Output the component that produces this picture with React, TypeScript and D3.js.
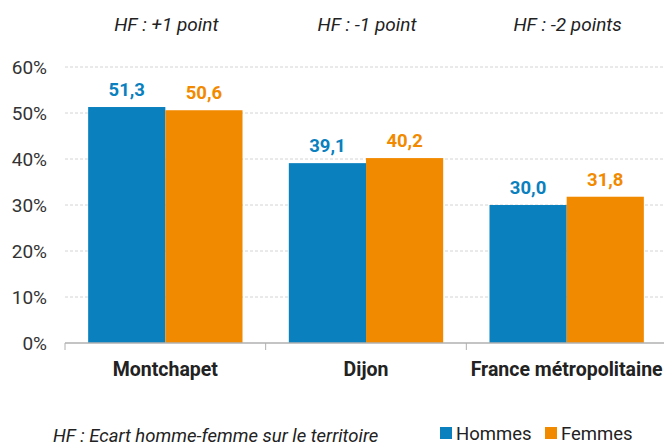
import React from "react";
import * as d3 from "d3";

const categories = ["Montchapet", "Dijon", "France métropolitaine"];
const hommes = [51.3, 39.1, 30.0];
const femmes = [50.6, 40.2, 31.8];
const ecarts = ["HF : +1 point", "HF : -1 point", "HF : -2 points"];
const yTicks = [0, 10, 20, 30, 40, 50, 60];
const series = ["Hommes", "Femmes"];
const colors = ["#0A80BE", "#F28A00"];

const W = 664;
const H = 445;
const m = { top: 67, right: -3, bottom: 102, left: 65 };

const fmt = (v: number) => v.toFixed(1).replace(".", ",");

const App = () => {
  const x = d3
    .scaleBand()
    .domain(categories)
    .range([m.left, W - m.right])
    .paddingInner(0)
    .paddingOuter(0);
  const y = d3.scaleLinear().domain([0, 60]).range([343, 67]);
  const inner = d3
    .scaleBand()
    .domain(series)
    .range([0, x.bandwidth()])
    .paddingOuter(0.3)
    .paddingInner(0);

  const values = [hommes, femmes];
  const font = "Roboto, sans-serif";

  return (
    <svg
      width={W}
      height={H}
      style={{ position: "absolute", left: 0, top: 0, background: "#fff" }}
      fontFamily={font}
    >
      {/* grid + y labels */}
      {yTicks.map((t) => (
        <g key={t}>
          {t > 0 && (
            <line
              x1={m.left}
              x2={W}
              y1={y(t)}
              y2={y(t)}
              stroke="#d4d4d4"
              strokeDasharray="3,2"
              strokeWidth={1}
            />
          )}
          <text
            x={47}
            y={y(t)}
            dy="0.35em"
            textAnchor="end"
            fontSize={19}
            fill="#333"
          >
            {t}%
          </text>
        </g>
      ))}

      {/* bars */}
      {categories.map((c, i) => (
        <g key={c} transform={`translate(${x(c)},0)`}>
          {series.map((s, j) => {
            const v = values[j][i];
            return (
              <g key={s}>
                <rect
                  x={inner(s)}
                  y={y(v)}
                  width={inner.bandwidth()}
                  height={y(0) - y(v)}
                  fill={colors[j]}
                />
                <text
                  x={(inner(s) as number) + inner.bandwidth() / 2}
                  y={y(v) - 11}
                  textAnchor="middle"
                  fontSize={18.5}
                  fontWeight="bold"
                  fill={colors[j]}
                >
                  {fmt(v)}
                </text>
              </g>
            );
          })}
          <text
            x={x.bandwidth() / 2}
            y={376}
            textAnchor="middle"
            fontSize={19.5}
            fontWeight="bold"
            fill="#222"
          >
            {c}
          </text>
          <text
            x={x.bandwidth() / 2 + 1}
            y={31}
            textAnchor="middle"
            fontSize={19}
            fontStyle="italic"
            fill="#222"
          >
            {ecarts[i]}
          </text>
        </g>
      ))}

      {/* axis */}
      <line x1={m.left} x2={W} y1={y(0)} y2={y(0)} stroke="#b0b0b0" strokeWidth={1.5} />
      {categories.map((c) => (
        <line
          key={c}
          x1={x(c)}
          x2={x(c)}
          y1={y(0)}
          y2={y(0) + 7}
          stroke="#b0b0b0"
          strokeWidth={1}
        />
      ))}

      {/* footer */}
      <text x={53} y={442} fontSize={18.5} fontStyle="italic" fill="#222">
        HF : Ecart homme-femme sur le territoire
      </text>

      {/* legend */}
      {series.map((s, j) => {
        const lx = [440, 545][j];
        return (
          <g key={s}>
            <rect x={lx} y={427} width={12} height={12} fill={colors[j]} />
            <text x={lx + 16} y={440} fontSize={18.5} fill="#222">
              {s}
            </text>
          </g>
        );
      })}
    </svg>
  );
};

export default App;
